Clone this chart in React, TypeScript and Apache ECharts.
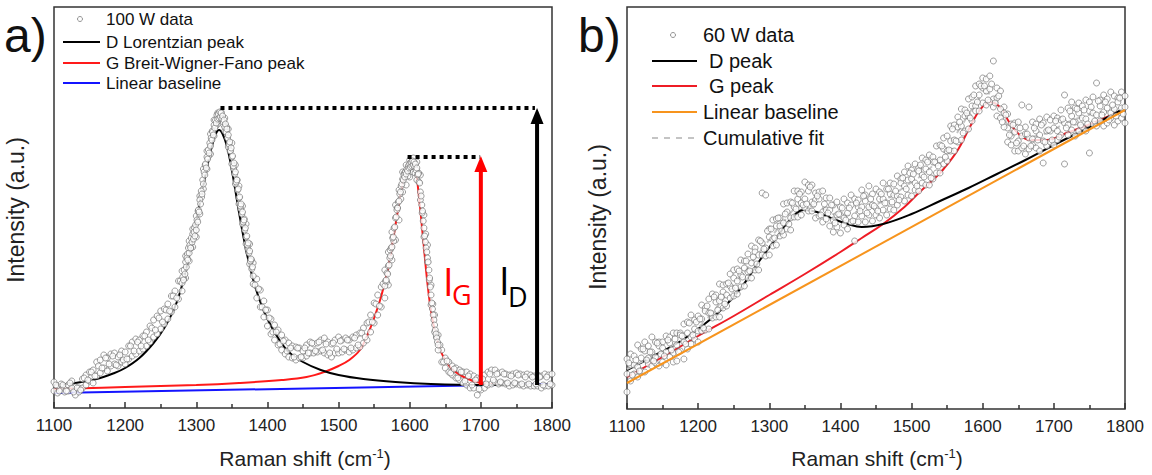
import React, { useEffect, useRef } from "react";
import * as echarts from "echarts";

// ---------- shared Raman-shift sampling (cm^-1) ----------
const ramanShift = [
  1100, 1105, 1110, 1115, 1120, 1125, 1130, 1135, 1140, 1145,
  1150, 1155, 1160, 1165, 1170, 1175, 1180, 1185, 1190, 1195,
  1200, 1205, 1210, 1215, 1220, 1225, 1230, 1235, 1240, 1245,
  1250, 1255, 1260, 1265, 1270, 1275, 1280, 1285, 1290, 1295,
  1300, 1305, 1310, 1315, 1320, 1325, 1330, 1335, 1340, 1345,
  1350, 1355, 1360, 1365, 1370, 1375, 1380, 1385, 1390, 1395,
  1400, 1405, 1410, 1415, 1420, 1425, 1430, 1435, 1440, 1445,
  1450, 1455, 1460, 1465, 1470, 1475, 1480, 1485, 1490, 1495,
  1500, 1505, 1510, 1515, 1520, 1525, 1530, 1535, 1540, 1545,
  1550, 1555, 1560, 1565, 1570, 1575, 1580, 1585, 1590, 1595,
  1600, 1605, 1610, 1615, 1620, 1625, 1630, 1635, 1640, 1645,
  1650, 1655, 1660, 1665, 1670, 1675, 1680, 1685, 1690, 1695,
  1700, 1705, 1710, 1715, 1720, 1725, 1730, 1735, 1740, 1745,
  1750, 1755, 1760, 1765, 1770, 1775, 1780, 1785, 1790, 1795, 1800,
];
const ramanShiftHalf = [
  1102.5, 1107.5, 1112.5, 1117.5, 1122.5, 1127.5, 1132.5, 1137.5, 1142.5, 1147.5,
  1152.5, 1157.5, 1162.5, 1167.5, 1172.5, 1177.5, 1182.5, 1187.5, 1192.5, 1197.5,
  1202.5, 1207.5, 1212.5, 1217.5, 1222.5, 1227.5, 1232.5, 1237.5, 1242.5, 1247.5,
  1252.5, 1257.5, 1262.5, 1267.5, 1272.5, 1277.5, 1282.5, 1287.5, 1292.5, 1297.5,
  1302.5, 1307.5, 1312.5, 1317.5, 1322.5, 1327.5, 1332.5, 1337.5, 1342.5, 1347.5,
  1352.5, 1357.5, 1362.5, 1367.5, 1372.5, 1377.5, 1382.5, 1387.5, 1392.5, 1397.5,
  1402.5, 1407.5, 1412.5, 1417.5, 1422.5, 1427.5, 1432.5, 1437.5, 1442.5, 1447.5,
  1452.5, 1457.5, 1462.5, 1467.5, 1472.5, 1477.5, 1482.5, 1487.5, 1492.5, 1497.5,
  1502.5, 1507.5, 1512.5, 1517.5, 1522.5, 1527.5, 1532.5, 1537.5, 1542.5, 1547.5,
  1552.5, 1557.5, 1562.5, 1567.5, 1572.5, 1577.5, 1582.5, 1587.5, 1592.5, 1597.5,
  1602.5, 1607.5, 1612.5, 1617.5, 1622.5, 1627.5, 1632.5, 1637.5, 1642.5, 1647.5,
  1652.5, 1657.5, 1662.5, 1667.5, 1672.5, 1677.5, 1682.5, 1687.5, 1692.5, 1697.5,
  1702.5, 1707.5, 1712.5, 1717.5, 1722.5, 1727.5, 1732.5, 1737.5, 1742.5, 1747.5,
  1752.5, 1757.5, 1762.5, 1767.5, 1772.5, 1777.5, 1782.5, 1787.5, 1792.5, 1797.5,
];

// ---------- panel a: 100 W data ----------
const data100WUpper = [
  26, 22, 24, 19, 23, 27, 21, 20, 29, 33,
  36, 38, 46, 48, 53, 50, 54, 55, 51, 57,
  56, 62, 66, 69, 68, 72, 76, 82, 88, 92,
  97, 99, 104, 112, 117, 127, 137, 152, 167, 179,
  192, 212, 239, 257, 274, 288, 295, 296, 290, 279,
  265, 243, 222, 202, 184, 164, 145, 129, 118, 107,
  98, 89, 83, 78, 73, 68, 65, 62, 61, 60,
  57, 63, 66, 64, 65, 68, 70, 66, 64, 68,
  71, 68, 70, 68, 71, 73, 75, 80, 85, 93,
  105, 113, 121, 138, 156, 176, 203, 218, 236, 243,
  248, 250, 246, 233, 193, 163, 123, 93, 73, 58,
  50, 46, 42, 40, 38, 36, 36, 34, 32, 30,
  30, 33, 36, 38, 38, 35, 36, 34, 33, 34,
  35, 34, 33, 34, 33, 32, 33, 32, 34, 33, 34,
];
const data100WLower = [
  17, 15, 18, 16, 17, 20, 13, 16, 20, 23,
  27, 25, 32, 35, 40, 37, 42, 44, 42, 46,
  44, 49, 52, 54, 57, 59, 62, 66, 71, 74,
  79, 84, 89, 96, 101, 109, 117, 130, 147, 161,
  171, 194, 219, 239, 254, 272, 284, 287, 277, 261,
  244, 224, 204, 184, 164, 144, 124, 110, 101, 91,
  82, 74, 68, 63, 58, 54, 51, 50, 48, 50,
  50, 52, 55, 55, 56, 57, 55, 53, 51, 55,
  55, 56, 58, 56, 58, 60, 61, 65, 68, 76,
  85, 93, 101, 110, 123, 148, 168, 188, 216, 223,
  231, 236, 228, 208, 171, 146, 103, 76, 58, 46,
  40, 36, 33, 30, 28, 25, 23, 20, 20, 13,
  18, 20, 23, 24, 26, 24, 25, 24, 22, 23,
  24, 23, 22, 23, 22, 22, 22, 20, 22, 22, 23,
];
const data100WHalf = [
  23, 17, 23, 17, 25, 16, 20, 18, 30, 28,
  36, 32, 42, 40, 50, 44, 52, 43, 53, 48,
  49, 62, 57, 66, 62, 72, 68, 80, 78, 90,
  86, 98, 97, 112, 110, 127, 129, 154, 160, 180,
  197, 211, 243, 252, 277, 282, 294, 284, 281, 257,
  239, 228, 199, 189, 159, 148, 123, 119, 101, 98,
  90, 76, 76, 64, 67, 57, 60, 51, 60, 51,
  60, 55, 65, 57, 66, 58, 64, 55, 65, 59,
  67, 59, 68, 60, 70, 63, 75, 71, 86, 86,
  104, 102, 124, 126, 158, 167, 200, 209, 235, 232,
  246, 235, 235, 195, 174, 128, 104, 71, 63, 46,
  47, 35, 39, 30, 36, 27, 32, 23, 28, 19,
  29, 24, 34, 28, 34, 26, 34, 25, 32, 25,
  33, 24, 31, 24, 31, 24, 31, 23, 31, 24,
];
const flankDShift = [
  1280, 1281, 1282, 1283, 1284, 1285, 1286, 1287, 1288, 1289,
  1290, 1291, 1292, 1293, 1294, 1295, 1296, 1297, 1298, 1299,
  1300, 1301, 1302, 1303, 1304, 1305, 1306, 1307, 1308, 1309,
  1310, 1311, 1312, 1313, 1314, 1315, 1316, 1317, 1318, 1319,
  1320, 1321, 1322, 1323, 1324, 1325, 1326, 1327, 1328, 1329,
  1330, 1331, 1332, 1333, 1334, 1335, 1336, 1337, 1338, 1339,
  1340, 1341, 1342, 1343, 1344, 1345, 1346, 1347, 1348, 1349,
  1350, 1351, 1352, 1353, 1354, 1355, 1356, 1357, 1358, 1359,
  1360, 1361, 1362, 1363, 1364, 1365, 1366, 1367, 1368, 1369,
  1370, 1371, 1372, 1373, 1374, 1375, 1376, 1377, 1378, 1379, 1380,
];
const flankD100W = [
  125, 131, 128, 138, 134, 146, 141, 150, 148, 160,
  155, 163, 160, 170, 166, 174, 169, 176, 172, 183,
  178, 188, 186, 198, 196, 208, 204, 217, 214, 228,
  224, 236, 233, 244, 240, 251, 249, 258, 255, 265,
  262, 270, 268, 276, 273, 283, 280, 288, 285, 293,
  289, 294, 290, 296, 291, 295, 289, 292, 286, 288,
  281, 284, 276, 279, 270, 273, 264, 266, 257, 260,
  251, 252, 242, 245, 234, 236, 226, 228, 218, 219,
  210, 211, 202, 204, 194, 196, 186, 188, 178, 180,
  171, 172, 163, 165, 155, 157, 147, 149, 139, 141, 132,
];
const flankGShift = [
  1565, 1566, 1567, 1568, 1569, 1570, 1571, 1572, 1573, 1574,
  1575, 1576, 1577, 1578, 1579, 1580, 1581, 1582, 1583, 1584,
  1585, 1586, 1587, 1588, 1589, 1590, 1591, 1592, 1593, 1594,
  1595, 1596, 1597, 1598, 1599, 1600, 1601, 1602, 1603, 1604,
  1605, 1606, 1607, 1608, 1609, 1610, 1611, 1612, 1613, 1614,
  1615, 1616, 1617, 1618, 1619, 1620, 1621, 1622, 1623, 1624,
  1625, 1626, 1627, 1628, 1629, 1630, 1631, 1632, 1633, 1634,
  1635, 1636, 1637, 1638, 1639, 1640,
];
const flankG100W = [
  122, 127, 128, 135, 134, 142, 143, 150, 152, 160,
  161, 170, 171, 180, 181, 190, 191, 198, 200, 206,
  207, 214, 216, 222, 224, 229, 228, 233, 231, 236,
  234, 239, 237, 242, 240, 244, 241, 246, 242, 247,
  243, 246, 241, 244, 238, 240, 233, 234, 226, 225,
  216, 212, 203, 197, 187, 180, 172, 166, 160, 156,
  150, 146, 138, 130, 121, 113, 105, 99, 93, 88,
  83, 78, 74, 70, 66, 63,
];

// panel a fitted curves
const baselineAShift = [1100, 1800];
const baselineA = [15, 24];
const gPeakAShift = [1100, 1200, 1300, 1360, 1420, 1455, 1480, 1500, 1515, 1530, 1540, 1550, 1560, 1570, 1580, 1590, 1597, 1602, 1607, 1612, 1619, 1626, 1633, 1643, 1657, 1676, 1700, 1740, 1800];
const gPeakA = [19, 21, 23, 25, 28, 31, 36, 42, 48, 58, 72, 90, 112, 141, 183, 225, 243, 248, 243, 218, 168, 118, 85, 58, 41, 31, 25, 23, 23];
const dPeakAShift = [1100, 1130, 1160, 1185, 1200, 1220, 1240, 1255, 1270, 1282, 1295, 1305, 1315, 1322, 1328, 1332, 1337, 1343, 1350, 1360, 1370, 1380, 1390, 1400, 1415, 1430, 1450, 1475, 1500, 1535, 1580, 1630, 1700, 1800];
const dPeakA = [23, 25, 29, 35, 40, 50, 65, 80, 101, 128, 170, 205, 240, 262, 275, 278, 274, 262, 238, 196, 158, 128, 106, 89, 70, 56, 46, 38, 33, 29, 26, 24, 23, 23];

// panel a intensity markers
const idLevel = [[1334, 300], [1776, 300]];
const idArrow = [[1779, 23], [1779, 292]];
const igLevel = [[1597, 251], [1699, 251]];
const igArrow = [[1700, 23], [1700, 244]];

// ---------- panel b: 60 W data ----------
const data60WUpper = [
  50, 55, 53, 64, 60, 67, 63, 72, 67, 67,
  67, 73, 72, 76, 76, 76, 85, 87, 94, 89,
  93, 104, 101, 110, 115, 114, 125, 124, 125, 135,
  139, 140, 149, 148, 155, 163, 161, 169, 216, 214,
  180, 189, 190, 191, 205, 206, 207, 218, 218, 217,
  227, 224, 224, 216, 217, 218, 211, 211, 204, 207,
  202, 210, 206, 214, 210, 209, 219, 214, 223, 215,
  220, 217, 226, 220, 226, 225, 233, 230, 237, 243,
  239, 245, 241, 251, 249, 254, 252, 263, 264, 271,
  273, 283, 284, 292, 300, 299, 310, 312, 323, 325,
  331, 330, 333, 348, 321, 318, 302, 295, 285, 286,
  287, 304, 282, 302, 287, 285, 290, 286, 292, 289,
  293, 291, 299, 314, 301, 307, 301, 306, 303, 309,
  307, 312, 326, 309, 314, 310, 317, 313, 311, 317, 313,
];
const data60WMiddle = [
  35, 44, 44, 42, 51, 58, 51, 57, 52, 63,
  61, 57, 66, 56, 64, 74, 67, 76, 72, 80,
  78, 90, 98, 96, 95, 107, 108, 117, 114, 123,
  131, 128, 134, 141, 137, 146, 157, 154, 166, 161,
  172, 170, 183, 183, 186, 197, 191, 202, 210, 206,
  210, 218, 207, 209, 210, 197, 199, 199, 189, 194,
  194, 191, 196, 204, 193, 202, 202, 208, 202, 204,
  201, 210, 210, 206, 215, 214, 213, 226, 223, 229,
  230, 226, 238, 234, 240, 237, 247, 246, 249, 260,
  258, 268, 269, 282, 283, 293, 293, 303, 303, 314,
  321, 318, 320, 310, 311, 300, 296, 281, 273, 277,
  268, 273, 275, 271, 270, 278, 274, 268, 278, 278,
  281, 278, 289, 286, 284, 293, 287, 296, 291, 290,
  298, 296, 294, 303, 297, 301, 296, 300, 307, 301, 302,
];
const data60WLower = [
  17, 28, 35, 32, 38, 37, 45, 43, 46, 43,
  47, 44, 52, 47, 48, 58, 50, 60, 65, 70,
  67, 78, 79, 80, 91, 92, 92, 101, 103, 111,
  113, 115, 122, 123, 131, 131, 139, 139, 154, 153,
  154, 163, 164, 173, 174, 180, 179, 192, 192, 194,
  201, 198, 198, 191, 193, 187, 190, 183, 177, 182,
  176, 184, 180, 187, 168, 187, 193, 187, 194, 188,
  194, 191, 199, 194, 200, 199, 204, 212, 208, 214,
  213, 219, 218, 226, 224, 224, 230, 236, 236, 245,
  248, 258, 258, 267, 269, 278, 280, 288, 298, 298,
  306, 304, 307, 302, 293, 291, 282, 267, 264, 258,
  258, 261, 255, 260, 264, 261, 258, 246, 263, 267,
  264, 269, 274, 245, 274, 279, 273, 278, 282, 278,
  256, 285, 283, 288, 283, 286, 291, 284, 288, 291, 286,
];
const data60WHalf = [
  46, 34, 49, 38, 60, 49, 57, 48, 66, 55,
  53, 69, 59, 70, 57, 73, 65, 86, 74, 87,
  90, 81, 103, 96, 112, 99, 112, 105, 126, 120,
  121, 138, 132, 148, 138, 152, 145, 168, 160, 178,
  180, 171, 191, 178, 195, 185, 206, 200, 215, 204,
  205, 222, 205, 213, 194, 205, 196, 204, 186, 195,
  201, 189, 201, 188, 206, 198, 213, 196, 210, 203,
  198, 215, 206, 220, 207, 218, 209, 231, 220, 236,
  235, 223, 244, 232, 247, 231, 247, 243, 263, 252,
  259, 280, 268, 287, 276, 296, 291, 314, 307, 323,
  323, 309, 325, 306, 313, 287, 294, 274, 284, 266,
  281, 263, 275, 263, 281, 269, 284, 267, 279, 269,
  288, 272, 290, 281, 298, 287, 300, 284, 299, 285,
  302, 288, 308, 294, 307, 289, 304, 293, 311, 295,
];

// panel b fitted curves
const baselineBShift = [1100, 1800];
const baselineB = [26, 299];
const gPeakBShift = [1100, 1150, 1200, 1250, 1300, 1350, 1400, 1430, 1460, 1490, 1510, 1530, 1545, 1565, 1582, 1596, 1610, 1624, 1638, 1652, 1667, 1690, 1718, 1755, 1800];
const gPeakB = [32, 52, 73, 93, 114, 135, 157, 171, 185, 202, 216, 229, 240, 259, 282, 299, 307, 302, 286, 274, 269, 269, 276, 286, 300];
const dPeakBShift = [1100, 1140, 1180, 1226, 1259, 1287, 1311, 1329, 1348, 1367, 1390, 1410, 1430, 1460, 1500, 1540, 1580, 1620, 1660, 1700, 1750, 1800];
const dPeakB = [39, 54, 70, 95, 120, 149, 172, 189, 199, 197, 190, 185, 182, 185, 195, 208, 221, 235, 249, 264, 282, 301];
const cumFitBShift = [1100, 1150, 1200, 1250, 1290, 1320, 1345, 1370, 1400, 1430, 1460, 1490, 1520, 1545, 1570, 1590, 1605, 1620, 1640, 1660, 1690, 1720, 1760, 1800];
const cumFitB = [40, 58, 81, 124, 160, 187, 203, 202, 193, 199, 208, 222, 237, 256, 283, 305, 316, 308, 278, 272, 276, 287, 296, 300];

const FONT = '"Liberation Sans", Arial, sans-serif';
const pairs = (xs: number[], ys: number[]) => xs.map((x, i) => [x, ys[i]]);

function lineSeries(name: string, idx: number, xs: number[], ys: number[], color: string, extra: any = {}) {
  return {
    name,
    type: "line",
    xAxisIndex: idx,
    yAxisIndex: idx,
    data: pairs(xs, ys),
    showSymbol: false,
    symbol: "none",
    smooth: 0.4,
    lineStyle: { color, width: 2 },
    z: 2,
    ...extra,
  };
}

function scatterSeries(name: string, idx: number, data: number[][]) {
  return {
    name,
    type: "scatter",
    xAxisIndex: idx,
    yAxisIndex: idx,
    data,
    symbol: "circle",
    symbolSize: 6,
    itemStyle: { color: "#ffffff", borderColor: "#666666", borderWidth: 0.8 },
    z: 3,
  };
}

function arrowSeries(name: string, pts: number[][], color: string) {
  return {
    name,
    type: "line",
    xAxisIndex: 0,
    yAxisIndex: 0,
    data: [
      { value: pts[0], symbol: "none" },
      { value: pts[1], symbol: "triangle", symbolSize: [13, 16], itemStyle: { color } },
    ],
    showSymbol: true,
    lineStyle: { color, width: 4 },
    z: 5,
  };
}

function dottedSeries(name: string, pts: number[][]) {
  return {
    name,
    type: "line",
    xAxisIndex: 0,
    yAxisIndex: 0,
    data: pts,
    symbol: "none",
    lineStyle: { color: "#000", width: 4, type: [4, 4], cap: "butt" },
    z: 5,
  };
}

function legendRow(x1: number, x2: number, y: number, tx: number, text: string, color: string, fontSize: number, dashed = false) {
  return [
    {
      type: "line",
      shape: { x1, y1: y, x2, y2: y },
      style: { stroke: color, lineWidth: 2, lineDash: dashed ? [6, 6] : null },
    },
    {
      type: "text",
      x: tx,
      y,
      style: { text, fontSize, fontFamily: FONT, fill: "#111", align: "left", verticalAlign: "middle" },
    },
  ];
}

function buildOption() {
  const data100W = [
    ...pairs(ramanShift, data100WUpper),
    ...pairs(ramanShift, data100WLower),
    ...pairs(ramanShiftHalf, data100WHalf),
    ...pairs(flankDShift, flankD100W),
    ...pairs(flankGShift, flankG100W),
  ];
  const data60W = [
    ...pairs(ramanShift, data60WUpper),
    ...pairs(ramanShift, data60WMiddle),
    ...pairs(ramanShift, data60WLower),
    ...pairs(ramanShiftHalf, data60WHalf),
  ];

  const xAxisCommon = {
    type: "value",
    min: 1100,
    max: 1800,
    interval: 100,
    axisLine: { show: false },
    axisTick: { show: true, inside: true, length: 6, lineStyle: { color: "#333", width: 1.5 } },
    minorTick: { show: true, splitNumber: 2, length: 4, lineStyle: { color: "#333", width: 1.5 } },
    splitLine: { show: false },
    minorSplitLine: { show: false },
    axisLabel: { fontSize: 17, color: "#222", margin: 9, fontFamily: FONT, formatter: (v: number) => String(v) },
  };

  const titleText = (x: number, y: number) => ({
    type: "text",
    x,
    y,
    style: {
      text: "{a|Raman shift (cm}{b|-1}{a|)}",
      align: "center",
      verticalAlign: "middle",
      rich: {
        a: { fontSize: 21, fontFamily: FONT, fill: "#222", color: "#222" },
        b: { fontSize: 13, fontFamily: FONT, fill: "#222", color: "#222", verticalAlign: "top", padding: [0, 0, 10, 0] },
      },
    },
  });

  const yTitle = (x: number, y: number) => ({
    type: "text",
    x,
    y,
    rotation: Math.PI / 2,
    style: { text: "Intensity (a.u.)", fontSize: 23, fontFamily: FONT, fill: "#222", align: "center", verticalAlign: "middle" },
  });

  return {
    animation: false,
    backgroundColor: "#ffffff",
    grid: [
      { left: 54, top: 7, width: 498, height: 401, show: true, borderColor: "#333", borderWidth: 1.5, backgroundColor: "transparent" },
      { left: 627, top: 7, width: 498, height: 402, show: true, borderColor: "#333", borderWidth: 1.5, backgroundColor: "transparent" },
    ],
    xAxis: [
      { ...xAxisCommon, gridIndex: 0 },
      { ...xAxisCommon, gridIndex: 1 },
    ],
    yAxis: [
      { type: "value", gridIndex: 0, min: 0, max: 401, show: false },
      { type: "value", gridIndex: 1, min: 0, max: 402, show: false },
    ],
    series: [
      // panel a
      lineSeries("Linear baseline", 0, baselineAShift, baselineA, "#1414ff", { smooth: false }),
      lineSeries("G Breit-Wigner-Fano peak", 0, gPeakAShift, gPeakA, "#ff1a1a"),
      lineSeries("D Lorentzian peak", 0, dPeakAShift, dPeakA, "#000000"),
      scatterSeries("100 W data", 0, data100W),
      dottedSeries("I_D level", idLevel),
      dottedSeries("I_G level", igLevel),
      arrowSeries("I_D", idArrow, "#000000"),
      arrowSeries("I_G", igArrow, "#ff0000"),
      // panel b
      lineSeries("G peak", 1, gPeakBShift, gPeakB, "#ee1c25"),
      lineSeries("D peak", 1, dPeakBShift, dPeakB, "#000000"),
      lineSeries("Cumulative fit", 1, cumFitBShift, cumFitB, "#c4c4c4", { lineStyle: { color: "#c4c4c4", width: 2, type: [6, 6] } }),
      scatterSeries("60 W data", 1, data60W),
      lineSeries("Linear baseline b", 1, baselineBShift, baselineB, "#f7941d", { smooth: false, z: 4 }),
    ],
    graphic: [
      // panel labels
      { type: "text", x: 4, y: 35, style: { text: "a)", fontSize: 48, fontFamily: FONT, fill: "#111", align: "left", verticalAlign: "middle" } },
      { type: "text", x: 578, y: 35, style: { text: "b)", fontSize: 48, fontFamily: FONT, fill: "#111", align: "left", verticalAlign: "middle" } },
      // axis titles
      titleText(305, 458),
      titleText(877, 458),
      yTitle(16, 210),
      yTitle(598, 217),
      // legend a
      { type: "circle", shape: { cx: 80, cy: 19, r: 2.5 }, style: { fill: "#fff", stroke: "#777", lineWidth: 0.8 } },
      { type: "text", x: 106, y: 19, style: { text: "100 W data", fontSize: 17, fontFamily: FONT, fill: "#111", align: "left", verticalAlign: "middle" } },
      ...legendRow(63, 100, 42, 106, "D Lorentzian peak", "#000", 17),
      ...legendRow(63, 100, 63, 106, "G Breit-Wigner-Fano peak", "#ff1a1a", 17),
      ...legendRow(63, 100, 83, 106, "Linear baseline", "#1414ff", 17),
      // legend b
      { type: "circle", shape: { cx: 673, cy: 35, r: 2.5 }, style: { fill: "#fff", stroke: "#777", lineWidth: 0.8 } },
      { type: "text", x: 703, y: 35, style: { text: "60 W data", fontSize: 20, fontFamily: FONT, fill: "#111", align: "left", verticalAlign: "middle" } },
      ...legendRow(652, 697, 61, 709, "D peak", "#000", 20),
      ...legendRow(652, 697, 86, 709, "G peak", "#ee1c25", 20),
      ...legendRow(652, 697, 112, 703, "Linear baseline", "#f7941d", 20),
      ...legendRow(652, 697, 138, 703, "Cumulative fit", "#c4c4c4", 20, true),
      // I_G / I_D labels
      { type: "text", x: 443, y: 281, style: { text: "I", fontSize: 38, fontFamily: '"Open Sans", sans-serif', fill: "#ff0000", align: "left", verticalAlign: "middle" } },
      { type: "text", x: 452, y: 294, style: { text: "G", fontSize: 27, fontFamily: '"Open Sans", sans-serif', fill: "#ff0000", align: "left", verticalAlign: "middle" } },
      { type: "text", x: 499, y: 280, style: { text: "I", fontSize: 38, fontFamily: '"Open Sans", sans-serif', fill: "#000", align: "left", verticalAlign: "middle" } },
      { type: "text", x: 508, y: 296, style: { text: "D", fontSize: 27, fontFamily: '"Open Sans", sans-serif', fill: "#000", align: "left", verticalAlign: "middle" } },
    ],
  };
}

export default function App() {
  const ref = useRef<HTMLDivElement>(null);
  useEffect(() => {
    if (!ref.current) return;
    const chart = echarts.init(ref.current, null, { renderer: "svg" });
    chart.setOption(buildOption() as any);
    return () => chart.dispose();
  }, []);
  return (
    <div
      ref={ref}
      style={{ position: "fixed", left: 0, top: 0, width: 1152, height: 475, background: "#fff" }}
    />
  );
}
